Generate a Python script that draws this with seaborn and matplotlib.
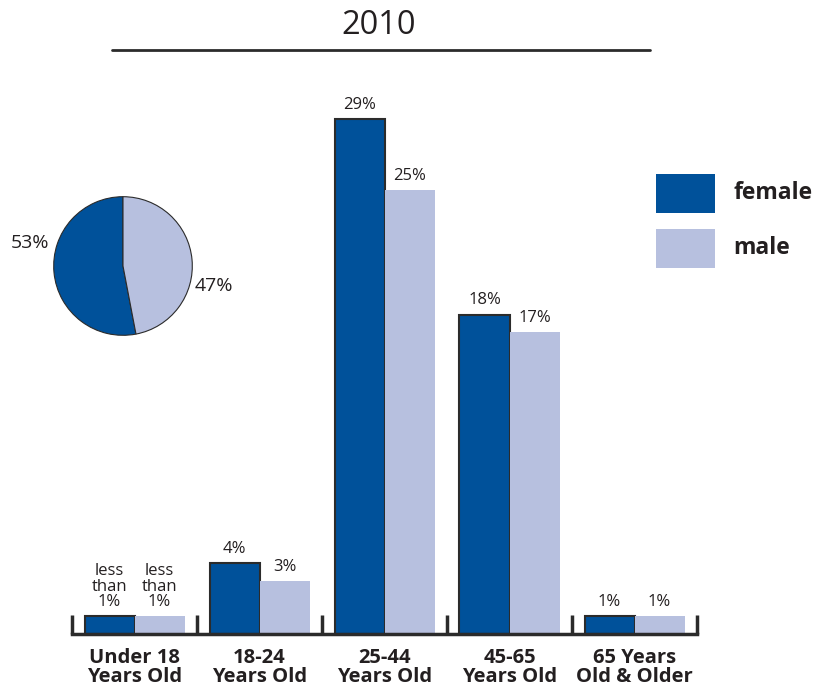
import matplotlib.pyplot as plt
import matplotlib.patches as mpatches
import seaborn as sns
import pandas as pd


# data
age_groups = ["Under 18\nYears Old", "18-24\nYears Old", "25-44\nYears Old",
              "45-65\nYears Old", "65 Years\nOld & Older"]
female = [1, 4, 29, 18, 1]
male = [1, 3, 25, 17, 1]
female_labels = ["less\nthan\n1%", "4%", "29%", "18%", "1%"]
male_labels = ["less\nthan\n1%", "3%", "25%", "17%", "1%"]

pie_names = ["female", "male"]
pie_share = [53, 47]

title = "2010"

dark_blue = "#00519a"
light_blue = "#b7c0df"
ink = "#231f20"

sns.set_style("white")
plt.rcParams['font.family'] = ['Open Sans', 'DejaVu Sans']

df = pd.DataFrame({
    "age": age_groups * 2,
    "pct": female + male,
    "sex": ["female"] * 5 + ["male"] * 5,
})

W, H = 814, 689
fig = plt.figure(figsize=(W / 100, H / 100), dpi=100)


def fx(px):
    return px / W


def fy(py):
    return 1 - py / H


# =========================
# BAR CHART
# =========================
ax = fig.add_axes([fx(72), fy(634), fx(697) - fx(72), fy(101.5) - fy(634)])

sns.barplot(data=df, x="age", y="pct", hue="sex",
            palette=[dark_blue, light_blue], width=0.8,
            saturation=1, legend=False, ax=ax)

ax.set_xlim(-0.5, 4.5)
ax.set_ylim(0, 30)

for p in ax.patches[:5]:
    p.set_edgecolor("#2b2b2b")
    p.set_linewidth(1.5)
for p in ax.patches[5:10]:
    p.set_edgecolor("none")

for bars, labels in [(ax.patches[:5], female_labels), (ax.patches[5:10], male_labels)]:
    for p, lab in zip(bars, labels):
        ax.text(p.get_x() + p.get_width() / 2, p.get_height() + 0.35, lab,
                ha="center", va="bottom", fontsize=12, color=ink,
                linespacing=0.95)

for s in ["top", "right", "left"]:
    ax.spines[s].set_visible(False)
ax.spines["bottom"].set_color("#2b2b2b")
ax.spines["bottom"].set_linewidth(2.5)

ax.set_yticks([])
ax.set_xticks(range(5))
ax.set_xticklabels(age_groups, fontsize=14.5, fontweight="bold", color=ink,
                   linespacing=0.95)
ax.tick_params(axis="x", which="major", length=0, pad=10)
ax.set_xticks([i - 0.5 for i in range(6)], minor=True)
ax.tick_params(axis="x", which="minor", bottom=True, direction="in",
               length=14, width=2.5, color="#2b2b2b")
ax.set_xlabel("")
ax.set_ylabel("")


# =========================
# PIE
# =========================
pax = fig.add_axes([fx(53), fy(336), fx(193) - fx(53), fy(196) - fy(336)])
pax.pie(pie_share, colors=[dark_blue, light_blue], startangle=90,
        counterclock=True,
        wedgeprops={"edgecolor": "#2b2b2b", "linewidth": 0.8})
pax.set_xlim(-1.01, 1.01)
pax.set_ylim(-1.01, 1.01)
pax.set_aspect("equal")
pax.text(-1.07, 0.33, f"{pie_share[0]}%", ha="right", va="center",
         fontsize=14, color=ink, clip_on=False)
pax.text(1.03, -0.29, f"{pie_share[1]}%", ha="left", va="center",
         fontsize=14, color=ink, clip_on=False)


# =========================
# TITLE + LEGEND
# =========================
fig.text(fx(379), fy(25), title, ha="center", va="center",
         fontsize=23.5, color=ink)
fig.add_artist(plt.Line2D([fx(112), fx(650)], [fy(50), fy(50)],
                          color="#2b2b2b", linewidth=2))

for k, (name, col) in enumerate(zip(pie_names, [dark_blue, light_blue])):
    top = 174 + k * 55
    fig.add_artist(mpatches.Rectangle((fx(656), fy(top + 39)),
                                      fx(715) - fx(656), fy(top) - fy(top + 39),
                                      facecolor=col, edgecolor="none"))
    fig.text(fx(733), fy(top + 19), name, ha="left", va="center",
             fontsize=16.5, fontweight="bold", color=ink)

fig.savefig("out.png", dpi=100)
